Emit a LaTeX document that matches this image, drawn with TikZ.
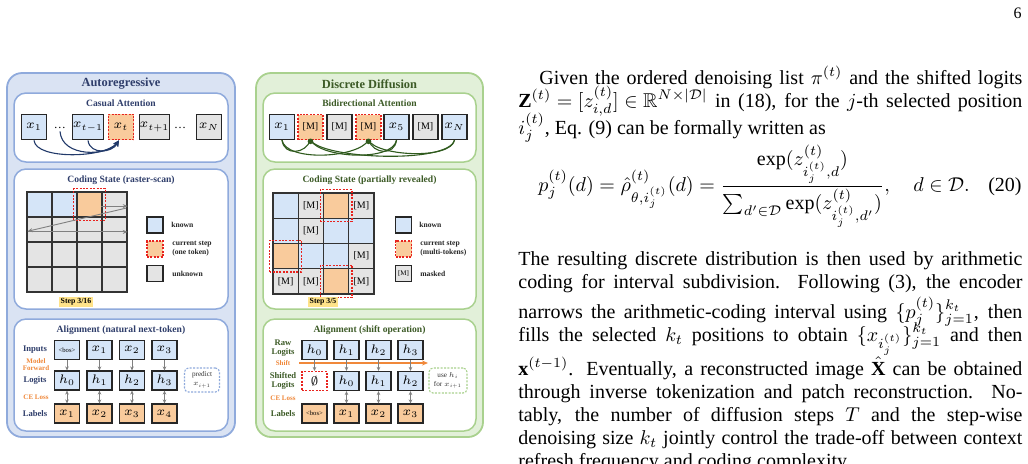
\RequirePackage{fix-cm}
\documentclass[tikz,border=0pt]{standalone}
\usepackage{amsmath,amssymb}
\usepackage{fontspec}
\setmainfont{Liberation Serif}
\usetikzlibrary{arrows.meta}
\definecolor{pbl}{HTML}{8FAADC}
\definecolor{pblf}{HTML}{DAE3F3}
\definecolor{pgr}{HTML}{A9D18E}
\definecolor{pgrf}{HTML}{E2F0D9}
\definecolor{tkb}{HTML}{D5E5F8}
\definecolor{tko}{HTML}{F9CB9C}
\definecolor{tkg}{HTML}{E4E4E4}
\definecolor{redd}{HTML}{E8231E}
\definecolor{navyt}{HTML}{2F3E6B}
\definecolor{greent}{HTML}{3D5B27}
\definecolor{orgt}{HTML}{F0883A}
\definecolor{navya}{HTML}{223A6A}
\definecolor{greena}{HTML}{2F5A1D}
\definecolor{hly}{HTML}{FFE38A}
\newcommand\maskM{{\fontsize{5}{6}\selectfont[M]}}
\tikzset{
  panelL/.style={draw=pbl,fill=pblf,line width=0.9pt,rounded corners=7.5pt},
  panelR/.style={draw=pgr,fill=pgrf,line width=0.9pt,rounded corners=7.5pt},
  innerL/.style={draw=pbl,fill=white,line width=0.75pt,rounded corners=6pt},
  innerR/.style={draw=pgr,fill=white,line width=0.75pt,rounded corners=6pt},
  ttl/.style={font=\bfseries\fontsize{6.2}{7}\selectfont,inner sep=0pt},
  subt/.style={font=\bfseries\fontsize{4.8}{5.5}\selectfont,inner sep=0pt},
  tok/.style={draw=black!85,line width=0.6pt,minimum width=12.8pt,minimum height=12.8pt,inner sep=0pt,font=\fontsize{6.3}{7}\selectfont},
  cell/.style={draw=black!80,line width=0.7pt,minimum width=12.5pt,minimum height=12.5pt,inner sep=0pt,font=\fontsize{5}{6}\selectfont},
  curdash/.style={draw=redd,line width=0.6pt,dash pattern=on 1pt off 0.7pt},
  lg/.style={draw=black!85,line width=0.8pt,minimum width=8pt,minimum height=8pt,inner sep=0pt},
  lgt/.style={font=\bfseries\fontsize{3.8}{4.4}\selectfont,inner sep=0pt,anchor=west,align=left,text=black!85},
  steplbl/.style={fill=hly,font=\bfseries\fontsize{3.9}{4.5}\selectfont,inner sep=0.7pt},
  abox/.style={draw=black!85,line width=0.6pt,minimum width=12.5pt,minimum height=9.5pt,inner sep=0pt,font=\fontsize{6.2}{7}\selectfont},
  rowl/.style={font=\bfseries\fontsize{4.3}{4.5}\selectfont,inner sep=0pt,align=center},
  orgl/.style={font=\bfseries\fontsize{3.5}{3.6}\selectfont,inner sep=0pt,align=center,text=orgt},
  garr/.style={draw=gray,line width=0.45pt,-{Stealth[length=2pt,width=1.8pt]}},
  garrb/.style={draw=gray,line width=0.45pt,{Stealth[length=2pt,width=1.8pt]}-{Stealth[length=2pt,width=1.8pt]}},
  scanarr/.style={draw=gray,line width=0.45pt,-{Stealth[length=2.5pt,width=2pt]}},
  narc/.style={draw=navya,line width=0.55pt,-{Stealth[length=3pt,width=2.6pt]}},
  garc/.style={draw=greena,line width=0.55pt},
  notebox/.style={line width=0.55pt,dash pattern=on 1pt off 0.7pt,rounded corners=2pt,minimum width=17.5pt,minimum height=12pt,inner sep=0pt,align=center,font=\fontsize{3.6}{4.6}\selectfont,fill=white,text=black!80},
  txt/.style={font=\fontsize{10}{11.5}\selectfont,inner sep=0pt,anchor=base west}
}
\begin{document}
\begin{tikzpicture}[x=0.5pt,y=-0.5pt]
\useasboundingbox (0,0) rectangle (1028,463);
\clip (0,0) rectangle (1028,463);
% ---------- panels
\draw[panelL] (7,73) rectangle (235,437);
\draw[panelR] (256,73) rectangle (483,437);
\node[ttl,text=navyt] (tA) at (121,84) {Autoregressive};
\node[ttl,text=greent] (tD) at (369.5,84) {Discrete Diffusion};
\draw[innerL] (14,93) rectangle (228,162);
\draw[innerL] (14,169) rectangle (228,309);
\draw[innerL] (14,319) rectangle (228,431);
\draw[innerR] (263,93) rectangle (476,162);
\draw[innerR] (263,169) rectangle (476,309);
\draw[innerR] (263,319) rectangle (476,431);
\node[subt,text=navyt] (s1) at (121,103) {Casual Attention};
\node[subt,text=navyt] (s2) at (121,180) {Coding State (raster-scan)};
\node[subt,text=navyt] (s3) at (121,330) {Alignment (natural next-token)};
\node[subt,text=greent] (s4) at (369.5,103) {Bidirectional Attention};
\node[subt,text=greent] (s5) at (369.5,180) {Coding State (partially revealed)};
\node[subt,text=greent] (s6) at (369.5,330) {Alignment (shift operation)};
% ---------- causal attention
\node[tok,fill=tkb] (a1) at (34,127) {$x_1$};
\node[inner sep=0pt,font=\fontsize{6}{6}\selectfont] (d1) at (60,128) {\dots};
\node[tok,fill=tkb] (a3) at (88,127) {$x_{t-1}$};
\node[tok,fill=tko,draw=redd,dash pattern=on 1pt off 0.7pt] (a4) at (121,127) {$x_t$};
\node[tok,fill=tkg] (a5) at (154.5,127) {$x_{t+1}$};
\node[inner sep=0pt,font=\fontsize{6}{6}\selectfont] (d2) at (180,128) {\dots};
\node[tok,fill=tkg] (a7) at (209,127) {$x_N$};
\draw[narc] (a1.south) .. controls (36,160) and (105,158) .. ([xshift=-1pt]a4.south);
\draw[narc] ([yshift=-1pt]d1.south) .. controls (62,158) and (108,156) .. ([xshift=-1pt]a4.south);
\draw[narc] (a3.south) .. controls (90,155) and (112,153) .. ([xshift=-1pt]a4.south);
% ---------- bidirectional attention
\node[tok,fill=tkb,minimum width=12.5pt,minimum height=12.5pt] (b1) at (282,127) {$x_1$};
\node[tok,fill=tko,draw=redd,dash pattern=on 1pt off 0.7pt,minimum width=12.5pt,minimum height=12.5pt] (b2) at (310.5,127) {\maskM};
\node[tok,fill=tkg,minimum width=12.5pt,minimum height=12.5pt] (b3) at (339.5,127) {\maskM};
\node[tok,fill=tko,draw=redd,dash pattern=on 1pt off 0.7pt,minimum width=12.5pt,minimum height=12.5pt] (b4) at (368.5,127) {\maskM};
\node[tok,fill=tkb,minimum width=12.5pt,minimum height=12.5pt] (b5) at (396.5,127) {$x_5$};
\node[tok,fill=tkg,minimum width=12.5pt,minimum height=12.5pt] (b6) at (425.5,127) {\maskM};
\node[tok,fill=tkb,minimum width=12.5pt,minimum height=12.5pt] (b7) at (454.5,127) {$x_N$};
\draw[garc] (b1.south) .. controls +(2,16) and +(-5,14) .. (b2.south);
\draw[garc] (b1.south) .. controls +(4,22) and +(-10,18) .. (b4.south);
\draw[garc] (b5.south) .. controls +(-2,16) and +(5,14) .. (b4.south);
\draw[garc] (b5.south) .. controls +(-4,22) and +(10,18) .. (b2.south);
\draw[garc] (b7.south) .. controls +(-4,20) and +(8,16) .. (b4.south);
\draw[garc] (b7.south) .. controls +(-6,24) and +(12,19) .. (b2.south);
\fill[greena] ([yshift=-0.6pt]b2.south) circle (1.4pt);
\fill[greena] ([yshift=-0.6pt]b4.south) circle (1.4pt);
% ---------- coding state raster
\foreach \r/\c/\f in {0/0/tkb,0/1/tkb,0/2/tko,0/3/tkg,1/0/tkg,1/1/tkg,1/2/tkg,1/3/tkg,2/0/tkg,2/1/tkg,2/2/tkg,2/3/tkg,3/0/tkg,3/1/tkg,3/2/tkg,3/3/tkg}
  \node[cell,fill=\f] (L\r\c) at ({39.5+25*\c},{204.5+25*\r}) {};
\draw[curdash] ([shift={(-1.3pt,-1.3pt)}]L02.south west) rectangle ([shift={(1.3pt,1.3pt)}]L02.north east);
\draw[scanarr] ([yshift=-0.8pt]L03.west) -- ([yshift=-0.8pt]L03.east);
\draw[scanarr] ([xshift=-0.8pt,yshift=-1.8pt]L03.east) -- ([xshift=0.6pt,yshift=-0.9pt]L10.west);
\draw[scanarr] ([xshift=0.6pt,yshift=-1.2pt]L10.west) -- ([yshift=-1.2pt]L13.east);
\node[lg,fill=tkb] (lk) at (155,225) {};
\node[lgt] (lkt) at (171,225) {known};
\node[lg,fill=tko,draw=redd,dash pattern=on 1pt off 0.7pt] (lc) at (155,249) {};
\node[lgt] (lct) at (172,249) {current step\\(one token)};
\node[lg,fill=tkg] (lu) at (155,273.5) {};
\node[lgt] (lut) at (172,273.5) {unknown};
\node[steplbl] (st1) at (76,302) {Step 3/16};
% ---------- coding state partial
\foreach \r/\c/\f/\t in {0/0/tkb/{},0/1/tkg/\maskM,0/2/tko/{},0/3/tkg/\maskM,
  1/0/tkb/{},1/1/tkg/\maskM,1/2/tkb/{},1/3/tkb/{},
  2/0/tko/{},2/1/tkb/{},2/2/tkb/{},2/3/tkg/\maskM,
  3/0/tkg/\maskM,3/1/tkg/\maskM,3/2/tko/{},3/3/tkg/\maskM}
  \node[cell,fill=\f,minimum width=12.625pt,minimum height=12.625pt] (R\r\c) at ({285.6+25.25*\c},{205.6+25.25*\r}) {\t};
\foreach \n in {R02,R20,R32}
  \draw[curdash] ([shift={(-1.3pt,-1.3pt)}]\n.south west) rectangle ([shift={(1.3pt,1.3pt)}]\n.north east);
\node[lg,fill=tkb] (rk) at (403.5,225) {};
\node[lgt] (rkt) at (419,225) {known};
\node[lg,fill=tko,draw=redd,dash pattern=on 1pt off 0.7pt] (rc) at (403.5,249) {};
\node[lgt] (rct) at (420,249) {current step\\(multi-tokens)};
\node[lg,fill=tkg,font=\fontsize{3.5}{4}\selectfont] (rm) at (403.5,273.5) {[M]};
\node[lgt] (rmt) at (420,273.5) {masked};
\node[steplbl] (st2) at (323,302) {Step 3/5};
% ---------- alignment natural
\node[rowl,text=navyt] (rin) at (35,350) {Inputs};
\node[orgl] (rmf) at (36,364.5) {Model\\Forward};
\node[rowl,text=navyt] (rlo) at (35,380.5) {Logits};
\node[orgl] (rce) at (36,397) {CE Loss};
\node[rowl,text=navyt] (rla) at (35,413.5) {Labels};
\foreach \i/\x/\t in {0/67/{\fontsize{3.3}{4}\selectfont<bos>},1/99.5/$x_1$,2/132/$x_2$,3/164.5/$x_3$}
  \node[abox,fill=tkb] (in\i) at (\x,350) {\t};
\foreach \i/\x/\t in {0/67/$h_0$,1/99.5/$h_1$,2/132/$h_2$,3/164.5/$h_3$}
  \node[abox,fill=tkb] (lo\i) at (\x,380.5) {\t};
\foreach \i/\x/\t in {0/67/$x_1$,1/99.5/$x_2$,2/132/$x_3$,3/164.5/$x_4$}
  \node[abox,fill=tko] (la\i) at (\x,413.5) {\t};
\foreach \i in {0,...,3}{\draw[garr] (in\i) -- (lo\i); \draw[garrb] (lo\i) -- (la\i);}
\node[notebox,draw=pbl] (pred) at (202,380) {predict\\$x_{i+1}$};
% ---------- alignment shift
\node[rowl,text=greent] (rrl) at (283,348.5) {Raw\\Logits};
\node[orgl] (rsh) at (283,363) {Shift};
\node[rowl,text=greent] (rsl) at (283,381) {Shifted\\Logits};
\node[orgl] (rce2) at (283,398) {CE Loss};
\node[rowl,text=greent] (rla2) at (283,413.5) {Labels};
\coordinate (sh0) at (299,363);
\coordinate (sh1) at (428,363);
\draw[draw=orgt,line width=0.7pt,-{Stealth[length=3pt,width=2.5pt]}] (sh0) -- (sh1);
\foreach \i/\x/\t in {0/314.5/$h_0$,1/346.5/$h_1$,2/378.5/$h_2$,3/410.5/$h_3$}
  \node[abox,fill=tkb] (r\i) at (\x,350) {\t};
\node[abox,fill=white,draw=redd,dash pattern=on 1pt off 0.7pt] (s0) at (314.5,381) {$\emptyset$};
\foreach \i/\x/\t in {1/346.5/$h_0$,2/378.5/$h_1$,3/410.5/$h_2$}
  \node[abox,fill=tkb] (s\i) at (\x,381) {\t};
\foreach \i/\x/\t in {0/314.5/{\fontsize{3.3}{4}\selectfont<bos>},1/346.5/$x_1$,2/378.5/$x_2$,3/410.5/$x_3$}
  \node[abox,fill=tko] (l\i) at (\x,413.5) {\t};
\foreach \i in {0,...,3}{\draw[garr] (r\i) -- (s\i);}
\foreach \i in {1,2,3}{\draw[garrb] (s\i) -- (l\i);}
\node[notebox,draw=pgr,minimum width=19pt,minimum height=12.5pt] (usen) at (448,380.5) {use $h_i$\\for $x_{i+1}$};
% ---------- text column
\node[anchor=base east,inner sep=0pt,font=\fontsize{8}{9}\selectfont] (pg) at (1022,18) {6};
\node[txt] (p1) at (518,84) {\makebox[252pt][s]{\hspace*{10.5pt}Given the ordered denoising list \mbox{$\pi^{(t)}$} and the shifted logits}};
\node[txt] (p2) at (518,107) {\makebox[252pt][s]{\mbox{$\mathbf{Z}^{(t)}=[z^{(t)}_{i,d}]\in\mathbb{R}^{N\times|\mathcal{D}|}$} in (18), for the \mbox{$j$-th} selected position}};
\node[txt] (p3) at (518,134) {$i^{(t)}_j$, Eq. (9) can be formally written as};
\node[txt,anchor=base] (eq) at (754,191) {$\displaystyle p_j^{(t)}(d)=\hat{\rho}^{(t)}_{\theta,i_j^{(t)}}(d)=\frac{\exp(z^{(t)}_{i_j^{(t)},d})}{\sum_{d'\in\mathcal{D}}\exp(z^{(t)}_{i_j^{(t)},d'})},\quad d\in\mathcal{D}.$};
\node[txt,anchor=base east] (eqn) at (1022,191) {(20)};
\node[txt] (q1) at (518,265) {\makebox[252pt][s]{The resulting discrete distribution is then used by arithmetic}};
\node[txt] (q2) at (518,288) {\makebox[252pt][s]{coding for interval subdivision. Following (3), the encoder}};
\node[txt] (q3) at (518,318) {\makebox[252pt][s]{narrows the arithmetic-coding interval using \mbox{$\{p_j^{(t)}\}_{j=1}^{k_t}$}, then}};
\node[txt] (q4) at (518,341) {\makebox[252pt][s]{fills the selected \mbox{$k_t$} positions to obtain \mbox{$\{x_{i_j^{(t)}}\}_{j=1}^{k_t}$} and then}};
\node[txt] (q5) at (518,375) {\makebox[252pt][s]{\mbox{$\mathbf{x}^{(t-1)}$}. Eventually, a reconstructed image \mbox{$\hat{\mathbf{X}}$} can be obtained}};
\node[txt] (q6) at (518,398) {\makebox[252pt][s]{through inverse tokenization and patch reconstruction. No-}};
\node[txt] (q7) at (518,421) {\makebox[252pt][s]{tably, the number of diffusion steps \mbox{$T$} and the step-wise}};
\node[txt] (q8) at (518,444) {\makebox[252pt][s]{denoising size \mbox{$k_t$} jointly control the trade-off between context}};
\node[txt] (q9) at (518,467) {refresh frequency and coding complexity.};
\end{tikzpicture}
\end{document}
